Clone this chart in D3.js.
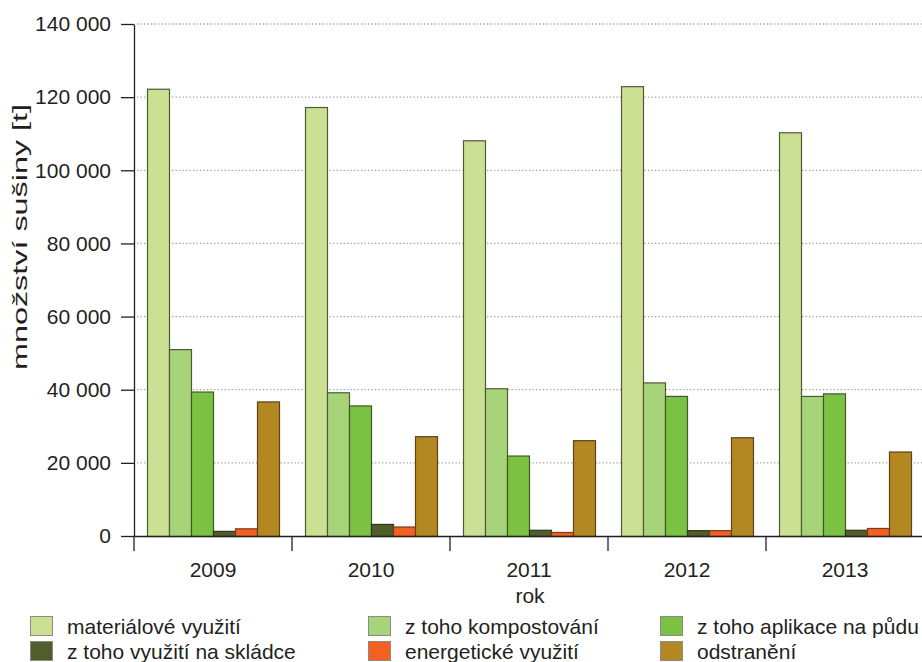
<!DOCTYPE html>
<html>
<head>
<meta charset="utf-8">
<script src="https://cdn.jsdelivr.net/npm/d3@7"></script>
<style>
  body { margin: 0; background: #fff; }
  svg { display: block; font-family: "Liberation Sans", Arial, sans-serif; }
  text { fill: #231f20; }
</style>
</head>
<body>
<div id="chart"></div>
<script>
// data
const years = ["2009", "2010", "2011", "2012", "2013"];
const seriesNames = ["materiálové využití", "z toho kompostování", "z toho aplikace na půdu",
  "z toho využití na skládce", "energetické využití", "odstranění"];
const seriesColors = ["#cbe093", "#a8d479", "#7bc142", "#4f5e2a", "#f26122", "#b38822"];
const seriesStrokes = ["#4e5a36", "#4e5a36", "#3f5a26", "#2f3818", "#7a3a1e", "#5a4418"];
const materialove = [122300, 117300, 108200, 123000, 110400];
const kompostovani = [51100, 39300, 40400, 42000, 38300];
const aplikace = [39500, 35700, 22000, 38300, 39000];
const skladce = [1400, 3300, 1700, 1600, 1700];
const energeticke = [2100, 2600, 1100, 1600, 2200];
const odstraneni = [36800, 27300, 26200, 27000, 23100];
const yTicks = [0, 20000, 40000, 60000, 80000, 100000, 120000, 140000];

const series = [materialove, kompostovani, aplikace, skladce, energeticke, odstraneni];

const W = 922, H = 662;
const plotLeft = 134, plotRight = 924, plotTop = 24, plotBottom = 536;

const svg = d3.select("#chart").append("svg")
    .attr("width", W).attr("height", H);

const locale = d3.formatLocale({decimal: ",", thousands: " ", grouping: [3], currency: ["", ""]});
const fmt = locale.format(",");

const x = d3.scaleBand().domain(years).range([plotLeft, plotRight]);
const xInner = d3.scaleBand().domain(d3.range(series.length))
    .range([13, x.bandwidth() - 13]);
const y = d3.scaleLinear().domain([0, 140000]).range([plotBottom, plotTop]);

// grid lines
svg.append("g")
    .selectAll("line")
    .data(yTicks.filter(d => d > 0))
    .enter().append("line")
    .attr("x1", plotLeft + 3).attr("x2", W)
    .attr("y1", d => y(d)).attr("y2", d => y(d))
    .attr("stroke", "#a0a0a0")
    .attr("stroke-width", 1.3)
    .attr("stroke-dasharray", "1.3,2.2");

// bars
const groups = svg.append("g")
    .selectAll("g")
    .data(years)
    .enter().append("g")
    .attr("transform", d => "translate(" + x(d) + ",0)");

groups.selectAll("rect")
    .data((d, i) => series.map((s, k) => ({k: k, v: s[i]})))
    .enter().append("rect")
    .attr("x", d => xInner(d.k) + 0.5)
    .attr("width", xInner.bandwidth())
    .attr("y", d => y(d.v) + 0.5)
    .attr("height", d => plotBottom - y(d.v))
    .attr("fill", d => seriesColors[d.k])
    .attr("stroke", d => seriesStrokes[d.k])
    .attr("stroke-width", 1.2);

// y axis
const yAxis = svg.append("g")
    .attr("transform", "translate(" + plotLeft + ",0)")
    .call(d3.axisLeft(y).tickValues(yTicks).tickFormat(fmt).tickSize(13).tickPadding(10).tickSizeOuter(0));
yAxis.select(".domain").attr("stroke", "#231f20").attr("stroke-width", 1.3);
yAxis.selectAll(".tick line").attr("stroke", "#231f20").attr("stroke-width", 1.3);
yAxis.selectAll("text").attr("font-size", 21).attr("fill", "#231f20")
    .style("font-family", "'Liberation Sans', Arial, sans-serif");

// x axis
const xAxis = svg.append("g")
    .attr("transform", "translate(0," + plotBottom + ")")
    .call(d3.axisBottom(x).tickSize(0).tickPadding(26).tickSizeOuter(0));
xAxis.select(".domain").attr("stroke", "#231f20").attr("stroke-width", 1.5);
xAxis.selectAll("text").attr("font-size", 21).attr("fill", "#231f20")
    .style("font-family", "'Liberation Sans', Arial, sans-serif");

// boundary ticks between years
xAxis.append("g")
    .selectAll("line")
    .data(years.concat(["end"]))
    .enter().append("line")
    .attr("x1", d => d === "end" ? plotRight : x(d))
    .attr("x2", d => d === "end" ? plotRight : x(d))
    .attr("y1", 0).attr("y2", 15)
    .attr("stroke", "#231f20")
    .attr("stroke-width", 1.3);

// axis titles
svg.append("text")
    .attr("x", (plotLeft + W) / 2 + 2)
    .attr("y", 603)
    .attr("text-anchor", "middle")
    .attr("font-size", 21)
    .text("rok");

svg.append("text")
    .attr("transform", "translate(27,237) rotate(-90)")
    .attr("text-anchor", "middle")
    .attr("font-size", 21)
    .attr("textLength", 266)
    .attr("lengthAdjust", "spacingAndGlyphs")
    .text("množství sušiny [t]");

// legend
const legendX = [30, 368, 660];
const legendY = [626, 651];
const legend = svg.append("g")
    .selectAll("g")
    .data(seriesNames)
    .enter().append("g")
    .attr("transform", (d, i) => "translate(" + legendX[i % 3] + "," + legendY[Math.floor(i / 3)] + ")");

legend.append("rect")
    .attr("x", 0.5).attr("y", -9.5)
    .attr("width", 22).attr("height", 19)
    .attr("fill", (d, i) => seriesColors[i])
    .attr("stroke", "#8a8a8a")
    .attr("stroke-width", 1);

legend.append("text")
    .attr("x", 37)
    .attr("y", 7.5)
    .attr("font-size", 21)
    .text(d => d);
</script>
</body>
</html>
